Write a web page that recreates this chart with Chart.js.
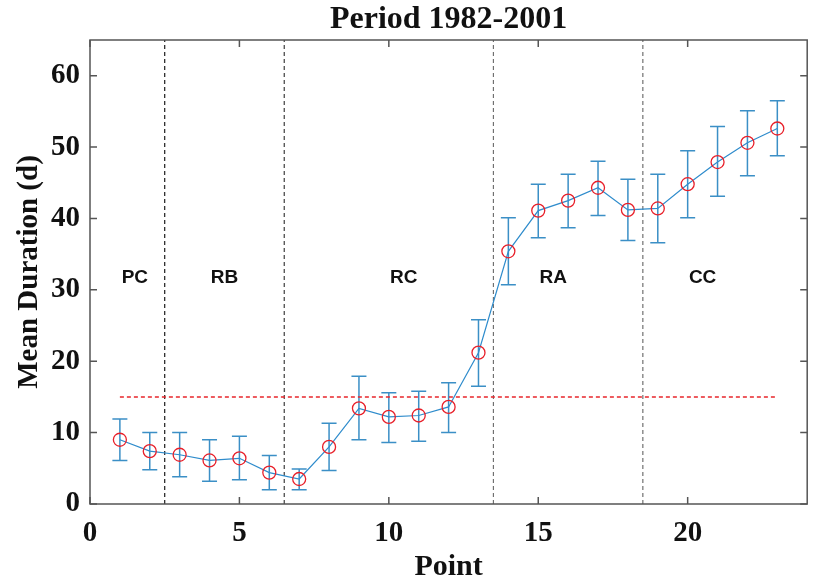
<!DOCTYPE html>
<html>
<head>
<meta charset="utf-8">
<script src="https://cdn.jsdelivr.net/npm/chart.js@4/dist/chart.umd.min.js"></script>
<style>
  html, body { margin: 0; padding: 0; background: #fff; }
  canvas { display: block; }
</style>
</head>
<body>
<canvas id="chart" width="815" height="581"></canvas>
<script>
// values
const points = [1, 2, 3, 4, 5, 6, 7, 8, 9, 10, 11, 12, 13, 14, 15, 16, 17, 18, 19, 20, 21, 22, 23];
const meanDur = [9.0, 7.4, 6.9, 6.1, 6.4, 4.4, 3.5, 8.0, 13.4, 12.2, 12.4, 13.6, 21.2, 35.4, 41.1, 42.5, 44.3, 41.2, 41.4, 44.8, 47.9, 50.6, 52.6];
const errHigh = [11.9, 10.0, 10.0, 9.0, 9.5, 6.8, 4.9, 11.3, 17.9, 15.6, 15.8, 17.0, 25.8, 40.1, 44.8, 46.2, 48.0, 45.5, 46.2, 49.5, 52.9, 55.1, 56.5];
const errLow = [6.1, 4.8, 3.8, 3.2, 3.4, 2.0, 2.0, 4.7, 9.0, 8.6, 8.8, 10.0, 16.5, 30.7, 37.3, 38.7, 40.4, 36.9, 36.6, 40.1, 43.1, 46.0, 48.8];

const boundaries = [2.5, 6.5, 13.5, 18.5];
const boundaryColors = ['#1a1a1a', '#3c3c3c', '#707070', '#707070'];
const regionLabels = ['PC', 'RB', 'RC', 'RA', 'CC'];
const regionLabelX = [1.5, 4.5, 10.5, 15.5, 20.5];
const regionLabelY = 31.7;
const threshold = 15;
const thresholdRange = [1, 23];

const serif = '"Liberation Serif", "Times New Roman", serif';

const errorBars = {
  id: 'errorBars',
  beforeDatasetsDraw(chart) {
    const { ctx, scales: { x, y } } = chart;
    ctx.save();
    ctx.strokeStyle = '#3b8fc6';
    ctx.lineWidth = 1.5;
    points.forEach((p, i) => {
      const px = x.getPixelForValue(p);
      const top = y.getPixelForValue(errHigh[i]);
      const bot = y.getPixelForValue(errLow[i]);
      ctx.beginPath();
      ctx.moveTo(px, top);
      ctx.lineTo(px, bot);
      ctx.moveTo(px - 7.5, top);
      ctx.lineTo(px + 7.5, top);
      ctx.moveTo(px - 7.5, bot);
      ctx.lineTo(px + 7.5, bot);
      ctx.stroke();
    });
    ctx.restore();
  }
};

const frame = {
  id: 'frame',
  afterDraw(chart) {
    const { ctx, chartArea: a, scales: { x, y } } = chart;
    ctx.save();
    // region names
    ctx.fillStyle = '#111';
    ctx.font = 'bold 19px "Liberation Sans", Arial, sans-serif';
    ctx.textAlign = 'center';
    ctx.textBaseline = 'middle';
    regionLabels.forEach((t, i) => {
      ctx.fillText(t, x.getPixelForValue(regionLabelX[i]), y.getPixelForValue(regionLabelY));
    });
    // box with inward ticks
    ctx.strokeStyle = '#555';
    ctx.lineWidth = 1.5;
    ctx.strokeRect(a.left, a.top, a.right - a.left, a.bottom - a.top);
    ctx.beginPath();
    x.ticks.forEach(t => {
      const px = x.getPixelForValue(t.value);
      ctx.moveTo(px, a.bottom); ctx.lineTo(px, a.bottom - 7);
      ctx.moveTo(px, a.top); ctx.lineTo(px, a.top + 7);
    });
    y.ticks.forEach(t => {
      const py = y.getPixelForValue(t.value);
      ctx.moveTo(a.left, py); ctx.lineTo(a.left + 7, py);
      ctx.moveTo(a.right, py); ctx.lineTo(a.right - 7, py);
    });
    ctx.stroke();
    ctx.restore();
  }
};

const boundarySets = boundaries.map((b, i) => ({
  data: [{ x: b, y: 0 }, { x: b, y: 65 }],
  showLine: true,
  borderColor: boundaryColors[i],
  borderWidth: 1.2,
  borderDash: [4, 3],
  pointRadius: 0,
  order: 2
}));

new Chart(document.getElementById('chart'), {
  type: 'scatter',
  data: {
    datasets: [
      {
        label: 'Mean Duration',
        data: points.map((p, i) => ({ x: p, y: meanDur[i] })),
        showLine: true,
        borderColor: '#2f8ccc',
        borderWidth: 1.2,
        pointRadius: 6.5,
        pointBorderColor: '#e8202a',
        pointBorderWidth: 1.3,
        pointBackgroundColor: 'rgba(0,0,0,0)',
        order: 0
      },
      {
        data: thresholdRange.map(v => ({ x: v, y: threshold })),
        showLine: true,
        borderColor: '#e8262b',
        borderWidth: 1.5,
        borderDash: [4, 3],
        pointRadius: 0,
        order: 1
      },
      ...boundarySets
    ]
  },
  options: {
    responsive: false,
    animation: false,
    devicePixelRatio: 1,
    layout: { padding: { left: 0, right: 1, top: 0, bottom: 0 } },
    plugins: {
      legend: { display: false },
      tooltip: { enabled: false },
      title: {
        display: true,
        fullSize: false,
        text: 'Period 1982-2001',
        color: '#111',
        font: { family: serif, size: 32, weight: 'bold' },
        padding: { top: 1, bottom: 0.6 }
      }
    },
    scales: {
      x: {
        type: 'linear',
        min: 0,
        max: 24,
        grid: { display: false, drawTicks: false },
        border: { display: false },
        ticks: {
          stepSize: 5,
          includeBounds: false,
          padding: 12,
          color: '#111',
          font: { family: serif, size: 29, weight: 'bold' }
        },
        title: {
          display: true,
          text: 'Point',
          color: '#111',
          font: { family: serif, size: 30, weight: 'bold' },
          padding: { top: 0, bottom: -4 }
        },
        afterFit(scale) {
          scale.height = 77;
        }
      },
      y: {
        min: 0,
        max: 65,
        grid: { display: false, drawTicks: false },
        border: { display: false },
        ticks: {
          stepSize: 10,
          includeBounds: false,
          padding: 10,
          color: '#111',
          font: { family: serif, size: 29, weight: 'bold' }
        },
        title: {
          display: true,
          text: 'Mean Duration (d)',
          color: '#111',
          font: { family: serif, size: 29, weight: 'bold' },
          padding: { top: 12, bottom: 0 }
        },
        afterFit(scale) {
          scale.width = 90;
        }
      }
    }
  },
  plugins: [errorBars, frame]
});
</script>
</body>
</html>
